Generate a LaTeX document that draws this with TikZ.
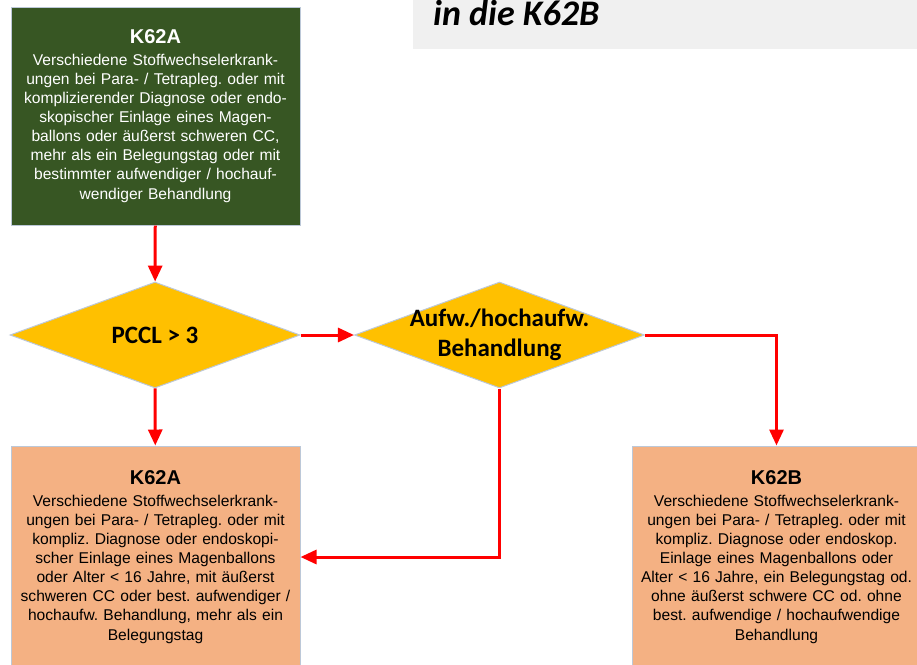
\documentclass[tikz,border=0pt]{standalone}
\usepackage{fontspec}
\setmainfont{Liberation Sans}
\newfontfamily\carlito{Carlito}
\usetikzlibrary{positioning, shapes.geometric, arrows.meta}
\definecolor{drgGreen}{HTML}{375623}
\definecolor{drgPeach}{HTML}{F4B183}
\definecolor{drgGold}{HTML}{FFC000}
\definecolor{drgRed}{HTML}{FF0000}
\definecolor{edgeBlue}{HTML}{BCC8D8}
\definecolor{bannerGrey}{HTML}{F0F0F0}
\frenchspacing
\begin{document}
\begin{tikzpicture}[x=1pt, y=-1pt,% pixel grid, origin top left
   box/.style = {draw=edgeBlue, line width=1pt, minimum width=289pt,
                 text width=282pt, align=center, inner sep=0pt,
                 font=\fontsize{15.6}{19.1}\selectfont},
   decision/.style = {diamond, draw=edgeBlue, fill=drgGold, line width=1pt,
                 minimum width=290pt, minimum height=106pt, aspect=2.7,
                 inner xsep=-100pt, inner ysep=-30pt, align=center,% text must not widen the shape
                 font=\carlito\bfseries\fontsize{25}{30}\selectfont},
   arrow/.style = {line width=3pt, drgRed, -{Triangle[length=16pt,width=14pt]}}
                        ]
\useasboundingbox (0,0) rectangle (917,664);
% heading strip, cut at the top
\node (banner) [fill=bannerGrey, minimum width=504pt, minimum height=49pt,
                inner sep=0pt, anchor=north west] at (413,0) {};
\node (heading) [anchor=base west, inner sep=0pt,
                 font=\carlito\bfseries\itshape\fontsize{36}{40}\selectfont]
                 at (433,25) {in die K62B};
% start box
\node (topA) [box, fill=drgGreen, text=white, minimum height=218pt] at (155.5,116)
      {{\bfseries\fontsize{20}{20}\selectfont K62A}\\[2.6pt]
       Verschiedene Stoffwechselerkrank-\\
       ungen bei Para- / Tetrapleg. oder mit\\
       komplizierender Diagnose oder endo-\\
       skopischer Einlage eines Magen-\\
       ballons oder äußerst schweren CC,\\
       mehr als ein Belegungstag oder mit\\
       bestimmter aufwendiger / hochauf-\\
       wendiger Behandlung};
% questions
\node (pccl) [decision] at (155,335) {PCCL > 3};
\node (treat) [decision] at (499.5,335) {Aufw./hochaufw.\\Behandlung};
% results
\node (lowA) [box, fill=drgPeach, minimum height=222pt] at (155.5,557)
      {{\bfseries\fontsize{20}{20}\selectfont K62A}\\[2.6pt]
       Verschiedene Stoffwechselerkrank-\\
       ungen bei Para- / Tetrapleg. oder mit\\
       kompliz. Diagnose oder endoskopi-\\
       scher Einlage eines Magenballons\\
       oder Alter < 16 Jahre, mit äußerst\\
       schweren CC oder best. aufwendiger /\\
       hochaufw. Behandlung, mehr als ein\\
       Belegungstag};
\node (lowB) [box, fill=drgPeach, minimum height=222pt] at (776.5,557)
      {{\bfseries\fontsize{20}{20}\selectfont K62B}\\[2.6pt]
       Verschiedene Stoffwechselerkrank-\\
       ungen bei Para- / Tetrapleg. oder mit\\
       kompliz. Diagnose oder endoskop.\\
       Einlage eines Magenballons oder\\
       Alter < 16 Jahre, ein Belegungstag od.\\
       ohne äußerst schwere CC od. ohne\\
       best. aufwendige / hochaufwendige\\
       Behandlung};
% connectors
\draw [arrow] (topA) -- (pccl);
\draw [arrow] (pccl) -- (treat);
\draw [arrow] (pccl) -- (lowA);
\draw [arrow] (treat.south) |- (lowA.east);
\draw [arrow] (treat.east) -| (lowB.north);
\end{tikzpicture}
\end{document}
